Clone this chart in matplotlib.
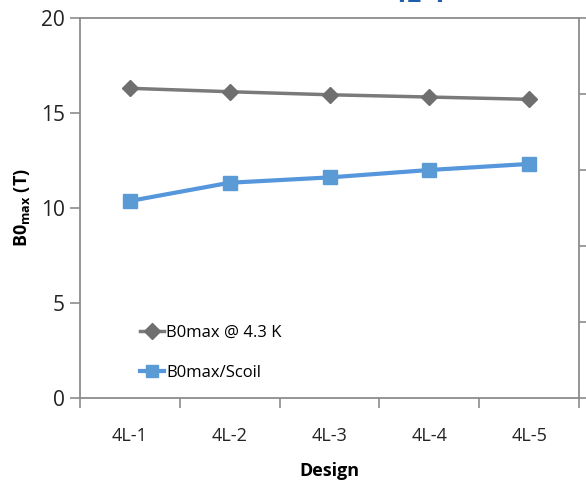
import matplotlib.pyplot as plt
import numpy as np

plt.rcParams['font.family'] = ['Open Sans', 'DejaVu Sans']

designs = ['4L-1', '4L-2', '4L-3', '4L-4', '4L-5']
b0max_43k = [16.3, 16.12, 15.96, 15.84, 15.72]
b0max_scoil = [10.37, 11.33, 11.61, 12.0, 12.32]

spine_col = '#8c8c8c'

fig = plt.figure(figsize=(5.86, 4.83), dpi=100)
ax = fig.add_axes([80/586, 1 - 398/483, 499/586, 380/483])

x = np.arange(len(designs))
ax.plot(x, b0max_43k, color='#7a7a7a', lw=2.5, marker='D', ms=8.5,
        mfc='#6f6f6f', mec='#6f6f6f', label='B0max @ 4.3 K')
ax.plot(x, b0max_scoil, color='#5596dc', lw=3, marker='s', ms=9.5,
        mfc='#5b9bd5', mec='#5b9bd5', label='B0max/Scoil')

ax.set_xlim(-0.5, len(designs) - 0.5)
ax.set_ylim(0, 20)
ax.set_yticks([0, 5, 10, 15, 20])
ax.set_xticks(x)
ax.set_xticklabels(designs, fontsize=13, color='#222222')
ax.set_xticks(np.arange(-0.5, len(designs)), minor=True)
ax.tick_params(axis='x', which='major', length=0, pad=21)
ax.tick_params(axis='x', which='minor', length=7, color=spine_col, width=1.2)
ax.tick_params(axis='y', length=7, color=spine_col, width=1.2, labelsize=15,
               labelcolor='#222222', pad=4)
for s in ax.spines.values():
    s.set_color(spine_col)
    s.set_linewidth(1.3)

ax.set_ylabel('B0$_{\\mathregular{max}}$ (T)', fontsize=13, fontweight='bold',
              labelpad=6)
ax.set_xlabel('Design', fontsize=13, fontweight='bold', labelpad=12)

ax2 = ax.twinx()
ax2.set_ylim(0, 5)
ax2.set_yticks([0, 1, 2, 3, 4, 5])
ax2.set_yticklabels([])
ax2.tick_params(axis='y', length=6, color=spine_col, width=1.2)
for s in ax2.spines.values():
    s.set_visible(False)

leg = ax.legend(loc='lower left', bbox_to_anchor=(0.09, 0.005), frameon=False,
                fontsize=12, labelspacing=1.45, handlelength=1.45,
                handletextpad=0.12, markerscale=0.9)

# clipped title at the top of the crop
fig.text(419/586, 1 - 9/483, '4L-1', color='#1f5fae', fontsize=20,
         fontweight='bold', ha='center', va='bottom')

fig.savefig('out.png', dpi=100)
